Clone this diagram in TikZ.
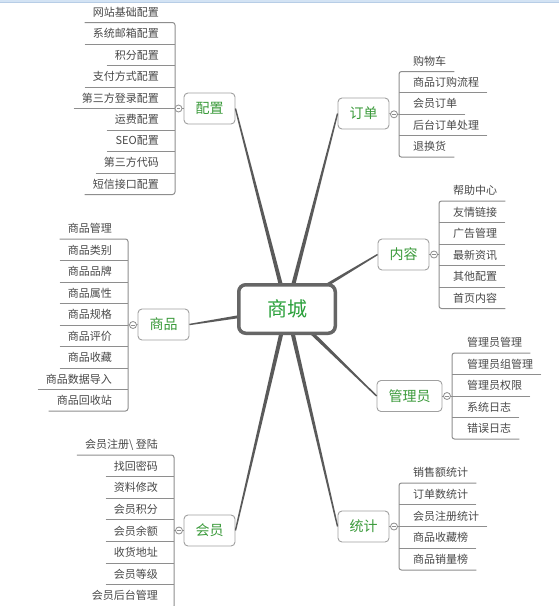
\documentclass[tikz,border=0pt]{standalone}
\usepackage{fontspec}
\setmainfont{Noto Sans CJK SC}
\usetikzlibrary{calc}
\definecolor{leafc}{HTML}{484848}
\definecolor{linec}{HTML}{8E8E8E}
\definecolor{greenc}{HTML}{3A9A3A}
\definecolor{centerg}{HTML}{2AA03A}
\definecolor{mainc}{HTML}{5A5A5A}
\definecolor{hubc}{HTML}{666666}
\definecolor{boxc}{HTML}{A0A0A0}
\definecolor{topband}{HTML}{D3E3F4}
\definecolor{topline}{HTML}{B7CDE6}
\newcommand\taper[2]{\fill[mainline] ($(#1)!2.2pt!90:(#2)$) -- ($(#2)!0.7pt!-90:(#1)$) -- ($(#2)!0.7pt!90:(#1)$) -- ($(#1)!2.2pt!-90:(#2)$) -- cycle;}
\begin{document}
\begin{tikzpicture}[x=1pt,y=-1pt,
 leaf/.style={inner sep=0pt, text=leafc, font=\fontsize{11}{11}\selectfont},
 uline/.style={draw=linec, line width=0.9pt},
 bracketline/.style={draw=linec, line width=1pt, rounded corners=2.5pt},
 branch/.style={draw=boxc, line width=0.9pt, fill=white, rounded corners=4pt, minimum height=31pt, inner xsep=11.5pt, text=greenc, font=\fontsize{14}{14}\selectfont},
 hub/.style={draw=hubc, line width=3.5pt, fill=white, rounded corners=7pt, minimum width=96.5pt, minimum height=48.5pt, text=centerg, font=\fontsize{20}{20}\selectfont},
 knob/.style={circle, draw=linec, line width=0.8pt, fill=white, minimum size=7pt, inner sep=0pt, path picture={\draw[linec,line width=0.5pt] ([xshift=-1.6pt]path picture bounding box.center) -- ([xshift=1.6pt]path picture bounding box.center);}},
 mainline/.style={fill=mainc}
]
\clip (0,0) rectangle (559,606);
\fill[white] (0,0) rectangle (559,606);
\fill[topband] (0,0) rectangle (559,2.5);
\draw[topline, line width=0.6pt] (0,2.5) -- (559,2.5);

% branch nodes
\node[branch] (pz) at (209.5,108.5) {配置};
\node[branch] (dd) at (363.5,113.5) {订单};
\node[branch] (nr) at (403.5,254.5) {内容};
\node[branch] (sp) at (163.5,324.5) {商品};
\node[branch] (gl) at (409.5,396) {管理员};
\node[branch] (hy) at (209.5,530.5) {会员};
\node[branch] (tj) at (363.5,526.5) {统计};

% main connectors
\coordinate (hc) at (287,309);
\taper{hc}{pz.east}
\taper{hc}{dd.west}
\taper{hc}{nr.west}
\taper{hc}{sp.east}
\taper{hc}{gl.west}
\taper{hc}{hy.east}
\taper{hc}{tj.west}
\node[hub] (hub) at (hc) {商城};

% ---- 配置 (left)
\foreach \txt [count=\i] in {网站基础配置,系统邮箱配置,积分配置,支付方式配置,第三方登录配置,运费配置,SEO配置,第三方代码,短信接口配置}
  {\node[leaf,anchor=east] (pz-\i) at (159,{12+21.5*(\i-1)}) {\txt};}
\foreach \i in {2,...,8}
  {\draw[uline] ($(pz-\i.west)+(-8,10.5)$) -- (175,{22.5+21.5*(\i-1)});}
\draw[bracketline] ($(pz-1.west)+(-8,10.5)$) -- (175,22.5) -- (175,194.5) -- ($(pz-9.west)+(-8,10.5)$);
\coordinate (pz-b) at (175,108.5);
\draw[uline] (pz.west) -- (pz-b);
\node[knob] (pz-k) at (178.5,108.5) {};

% ---- 订单 (right)
\foreach \txt [count=\i] in {购物车,商品订购流程,会员订单,后台订单处理,退换货}
  {\node[leaf,anchor=west] (dd-\i) at (413,{61+21.4*(\i-1)}) {\txt};}
\foreach \i in {2,...,4}
  {\draw[uline] ($(dd-\i.east)+(8,10.5)$) -- (399,{71.5+21.4*(\i-1)});}
\draw[bracketline] ($(dd-1.east)+(8,10.5)$) -- (399,71.5) -- (399,157.1) -- ($(dd-5.east)+(8,10.5)$);
\coordinate (dd-b) at (399,114.3);
\draw[uline] (dd.east) -- (dd-b);
\node[knob] (dd-k) at (394,114.3) {};

% ---- 内容 (right)
\foreach \txt [count=\i] in {帮助中心,友情链接,广告管理,最新资讯,其他配置,首页内容}
  {\node[leaf,anchor=west] (nr-\i) at (453,{190.5+21.5*(\i-1)}) {\txt};}
\foreach \i in {2,...,5}
  {\draw[uline] ($(nr-\i.east)+(8,10.5)$) -- (439,{201+21.5*(\i-1)});}
\draw[bracketline] ($(nr-1.east)+(8,10.5)$) -- (439,201) -- (439,308.5) -- ($(nr-6.east)+(8,10.5)$);
\coordinate (nr-b) at (439,254.5);
\draw[uline] (nr.east) -- (nr-b);
\node[knob] (nr-k) at (434,254.5) {};

% ---- 商品 (left)
\foreach \txt [count=\i] in {商品管理,商品类别,商品品牌,商品属性,商品规格,商品评价,商品收藏,商品数据导入,商品回收站}
  {\node[leaf,anchor=east] (sp-\i) at (112,{228.5+21.5*(\i-1)}) {\txt};}
\foreach \i in {2,...,8}
  {\draw[uline] ($(sp-\i.west)+(-8,10.5)$) -- (128,{239+21.5*(\i-1)});}
\draw[bracketline] ($(sp-1.west)+(-8,10.5)$) -- (128,239) -- (128,411) -- ($(sp-9.west)+(-8,10.5)$);
\coordinate (sp-b) at (128,325);
\draw[uline] (sp.west) -- (sp-b);
\node[knob] (sp-k) at (133,325) {};

% ---- 管理员 (right)
\foreach \txt [count=\i] in {管理员管理,管理员组管理,管理员权限,系统日志,错误日志}
  {\node[leaf,anchor=west] (gl-\i) at (467,{342.5+21.5*(\i-1)}) {\txt};}
\foreach \i in {2,...,4}
  {\draw[uline] ($(gl-\i.east)+(8,10.5)$) -- (452,{353+21.5*(\i-1)});}
\draw[bracketline] ($(gl-1.east)+(8,10.5)$) -- (452,353) -- (452,439) -- ($(gl-5.east)+(8,10.5)$);
\coordinate (gl-b) at (452,396);
\draw[uline] (gl.east) -- (gl-b);
\node[knob] (gl-k) at (447,396) {};

% ---- 会员 (left)
\foreach \txt [count=\i] in {会员注册\textbackslash{} 登陆,找回密码,资料修改,会员积分,会员余额,收货地址,会员等级,会员后台管理}
  {\node[leaf,anchor=east] (hy-\i) at (158,{444.5+21.6*(\i-1)}) {\txt};}
\foreach \i in {2,...,7}
  {\draw[uline] ($(hy-\i.west)+(-8,10.5)$) -- (174,{455+21.6*(\i-1)});}
\draw[bracketline] ($(hy-1.west)+(-8,10.5)$) -- (174,455) -- (174,608.5) -- ($(hy-8.west)+(-8,13)$);
\coordinate (hy-b) at (174,530.5);
\draw[uline] (hy.west) -- (hy-b);
\node[knob] (hy-k) at (179,530.5) {};

% ---- 统计 (right)
\foreach \txt [count=\i] in {销售额统计,订单数统计,会员注册统计,商品收藏榜,商品销量榜}
  {\node[leaf,anchor=west] (tj-\i) at (413,{472.5+21.75*(\i-1)}) {\txt};}
\foreach \i in {2,...,4}
  {\draw[uline] ($(tj-\i.east)+(8,10.5)$) -- (399,{483+21.75*(\i-1)});}
\draw[bracketline] ($(tj-1.east)+(8,10.5)$) -- (399,483) -- (399,570) -- ($(tj-5.east)+(8,10.5)$);
\coordinate (tj-b) at (399,526.5);
\draw[uline] (tj.east) -- (tj-b);
\node[knob] (tj-k) at (394,526.5) {};
\end{tikzpicture}
\end{document}
